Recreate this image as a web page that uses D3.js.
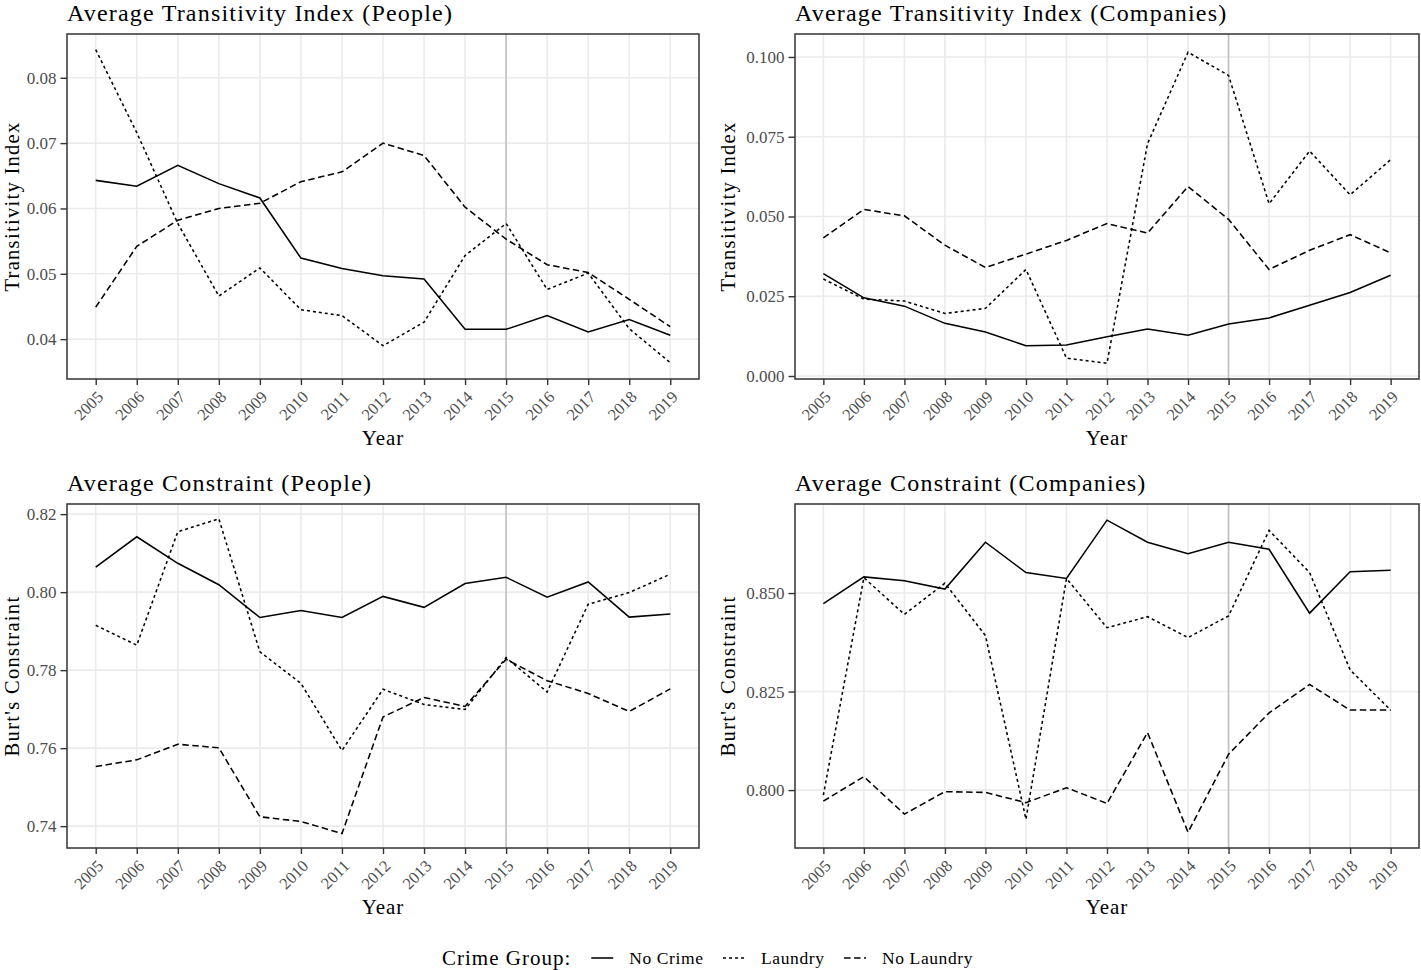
<!DOCTYPE html>
<html>
<head>
<meta charset="utf-8">
<script src="https://cdn.jsdelivr.net/npm/d3@7/dist/d3.min.js"></script>
<style>
  html, body { margin: 0; padding: 0; background: #ffffff; }
  svg { display: block; }
  text { font-family: "Liberation Serif", "DejaVu Serif", serif; }
</style>
</head>
<body>
<svg id="chart" width="1421" height="970"></svg>
<script>
// ---------------- DATA ----------------
const years = [2005, 2006, 2007, 2008, 2009, 2010, 2011, 2012, 2013, 2014, 2015, 2016, 2017, 2018, 2019];
const groups = ["No Crime", "Laundry", "No Laundry"];

// Average Transitivity Index (People)
const transPeopleNoCrime   = [0.0643, 0.0634, 0.0666, 0.0638, 0.0616, 0.0524, 0.0508, 0.0497, 0.0492, 0.0415, 0.0415, 0.0436, 0.0411, 0.0430, 0.0406];
const transPeopleLaundry   = [0.0843, 0.0716, 0.0577, 0.0466, 0.0509, 0.0445, 0.0436, 0.0390, 0.0426, 0.0528, 0.0577, 0.0476, 0.0501, 0.0416, 0.0364];
const transPeopleNoLaundry = [0.0449, 0.0542, 0.0582, 0.0600, 0.0608, 0.0641, 0.0656, 0.0700, 0.0681, 0.0602, 0.0553, 0.0514, 0.0502, 0.0461, 0.0419];

// Average Transitivity Index (Companies)
const transCompNoCrime   = [0.0321, 0.0245, 0.0219, 0.0165, 0.0138, 0.0095, 0.0097, 0.0123, 0.0147, 0.0128, 0.0163, 0.0182, 0.0222, 0.0262, 0.0316];
const transCompLaundry   = [0.0304, 0.0241, 0.0235, 0.0196, 0.0212, 0.0334, 0.0056, 0.0040, 0.0728, 0.1015, 0.0942, 0.0540, 0.0705, 0.0568, 0.0678];
const transCompNoLaundry = [0.0433, 0.0522, 0.0502, 0.0410, 0.0340, 0.0382, 0.0425, 0.0478, 0.0448, 0.0594, 0.0491, 0.0334, 0.0394, 0.0443, 0.0386];

// Average Constraint (People)
const consPeopleNoCrime   = [0.8064, 0.8142, 0.8074, 0.8019, 0.7935, 0.7953, 0.7935, 0.7989, 0.7961, 0.8022, 0.8038, 0.7987, 0.8026, 0.7936, 0.7944];
const consPeopleLaundry   = [0.7915, 0.7864, 0.8155, 0.8188, 0.7847, 0.7766, 0.7594, 0.7751, 0.7712, 0.7699, 0.7832, 0.7744, 0.7969, 0.7999, 0.8046];
const consPeopleNoLaundry = [0.7553, 0.7570, 0.7610, 0.7601, 0.7424, 0.7412, 0.7381, 0.7680, 0.7730, 0.7707, 0.7828, 0.7773, 0.7740, 0.7694, 0.7752];

// Average Constraint (Companies)
const consCompNoCrime   = [0.8473, 0.8541, 0.8531, 0.8510, 0.8629, 0.8552, 0.8537, 0.8685, 0.8629, 0.8600, 0.8629, 0.8611, 0.8449, 0.8554, 0.8558];
const consCompLaundry   = [0.7987, 0.8539, 0.8446, 0.8525, 0.8392, 0.7926, 0.8537, 0.8412, 0.8440, 0.8387, 0.8442, 0.8659, 0.8552, 0.8305, 0.8203];
const consCompNoLaundry = [0.7972, 0.8034, 0.7939, 0.7996, 0.7994, 0.7968, 0.8006, 0.7966, 0.8146, 0.7893, 0.8091, 0.8196, 0.8268, 0.8203, 0.8203];

// Tick values
const ticksTransPeople = [0.04, 0.05, 0.06, 0.07, 0.08];
const ticksTransComp   = [0.000, 0.025, 0.050, 0.075, 0.100];
const ticksConsPeople  = [0.74, 0.76, 0.78, 0.80, 0.82];
const ticksConsComp    = [0.800, 0.825, 0.850];
const markerYear = 2015;

// ---------------- LAYOUT / STYLE ----------------
const styles = {
  "No Crime":   { dash: null },
  "Laundry":    { dash: "3,3" },
  "No Laundry": { dash: "6.5,3.5" }
};

const panels = [
  { title: "Average Transitivity Index (People)", ylab: "Transitivity Index",
    x0: 67, x1: 699, y0: 34, y1: 379, ydom: [0.0339, 0.0867], ticks: ticksTransPeople, fmt: d3.format(".2f"),
    series: [transPeopleNoCrime, transPeopleLaundry, transPeopleNoLaundry], ylabX: 18.5 },
  { title: "Average Transitivity Index (Companies)", ylab: "Transitivity Index",
    x0: 795, x1: 1419, y0: 34, y1: 379, ydom: [-0.00094, 0.1072], ticks: ticksTransComp, fmt: d3.format(".3f"),
    series: [transCompNoCrime, transCompLaundry, transCompNoLaundry], ylabX: 735 },
  { title: "Average Constraint (People)", ylab: "Burt's Constraint",
    x0: 67, x1: 699, y0: 504, y1: 848, ydom: [0.7344, 0.8226], ticks: ticksConsPeople, fmt: d3.format(".2f"),
    series: [consPeopleNoCrime, consPeopleLaundry, consPeopleNoLaundry], ylabX: 18.5 },
  { title: "Average Constraint (Companies)", ylab: "Burt's Constraint",
    x0: 795, x1: 1419, y0: 504, y1: 848, ydom: [0.7853, 0.8726], ticks: ticksConsComp, fmt: d3.format(".3f"),
    series: [consCompNoCrime, consCompLaundry, consCompNoLaundry], ylabX: 735 }
];

const svg = d3.select("#chart");
const gridColor = "#ebebeb";
const tickColor = "#4d4d4d";
const titleSize = "24px", titleSpacing = "1.2px";
const axisTitleSize = "21px", axisTitleSpacing = "1px";
const ylabSize = "20.5px", ylabSpacing = "1.3px";

panels.forEach(p => {
  const x = d3.scaleLinear().domain([2005 - 0.7, 2019 + 0.7]).range([p.x0, p.x1]);
  const y = d3.scaleLinear().domain(p.ydom).range([p.y1, p.y0]);
  const g = svg.append("g");

  // grid
  g.selectAll(".gx").data(years).join("line")
    .attr("x1", d => x(d)).attr("x2", d => x(d))
    .attr("y1", p.y0).attr("y2", p.y1)
    .attr("stroke", gridColor).attr("stroke-width", 1.6);
  g.selectAll(".gy").data(p.ticks).join("line")
    .attr("x1", p.x0).attr("x2", p.x1)
    .attr("y1", d => y(d)).attr("y2", d => y(d))
    .attr("stroke", gridColor).attr("stroke-width", 1.6);

  // vertical marker
  g.append("line")
    .attr("x1", x(markerYear)).attr("x2", x(markerYear))
    .attr("y1", p.y0).attr("y2", p.y1)
    .attr("stroke", "#bebebe").attr("stroke-width", 1.5);

  // lines
  const line = d3.line().x((d, i) => x(years[i])).y(d => y(d));
  p.series.forEach((s, k) => {
    const st = styles[groups[k]];
    g.append("path").datum(s)
      .attr("d", line)
      .attr("fill", "none")
      .attr("stroke", "#000")
      .attr("stroke-width", 1.55)
      .attr("stroke-dasharray", st.dash);
  });

  // border
  g.append("rect")
    .attr("x", p.x0).attr("y", p.y0)
    .attr("width", p.x1 - p.x0).attr("height", p.y1 - p.y0)
    .attr("fill", "none").attr("stroke", "#333333").attr("stroke-width", 1.5);

  // y axis
  const ya = d3.axisLeft(y).tickValues(p.ticks).tickFormat(p.fmt).tickSize(6.5).tickPadding(4);
  const yg = g.append("g").attr("transform", `translate(${p.x0},0)`).call(ya);
  yg.select(".domain").remove();
  yg.selectAll(".tick line").attr("stroke", "#333333").attr("stroke-width", 1.4);
  yg.selectAll(".tick text").attr("fill", tickColor).style("font-size", "17px")
    .style("font-family", '"Liberation Serif", serif');

  // x axis
  const xa = d3.axisBottom(x).tickValues(years).tickFormat(d3.format("d")).tickSize(6).tickPadding(3);
  const xg = g.append("g").attr("transform", `translate(0,${p.y1})`).call(xa);
  xg.select(".domain").remove();
  xg.selectAll(".tick line").attr("stroke", "#333333").attr("stroke-width", 1.4);
  xg.selectAll(".tick text")
    .attr("fill", tickColor)
    .style("font-size", "16.5px")
    .style("font-family", '"Liberation Serif", serif')
    .attr("text-anchor", "end")
    .attr("dy", null)
    .attr("y", 0)
    .attr("transform", "translate(8,19) rotate(-45)");

  // title
  svg.append("text").attr("x", p.x0).attr("y", p.y0 - 13)
    .text(p.title).style("font-size", titleSize).style("letter-spacing", titleSpacing).attr("fill", "#000");

  // axis titles
  svg.append("text")
    .attr("x", (p.x0 + p.x1) / 2).attr("y", p.y1 + 66)
    .attr("text-anchor", "middle")
    .text("Year").style("font-size", axisTitleSize).style("letter-spacing", axisTitleSpacing);
  svg.append("text")
    .attr("transform", `translate(${p.ylabX},${(p.y0 + p.y1) / 2}) rotate(-90)`)
    .attr("text-anchor", "middle")
    .text(p.ylab).style("font-size", ylabSize).style("letter-spacing", ylabSpacing);
});

// ---------------- LEGEND ----------------
const legY = 958;
const leg = svg.append("g");
const legTitle = leg.append("text").attr("x", 442).attr("y", legY + 7)
  .text("Crime Group:").style("font-size", axisTitleSize).style("letter-spacing", axisTitleSpacing);
let cx = 442 + legTitle.node().getComputedTextLength() + 20;
groups.forEach((key, i) => {
  leg.append("line").attr("x1", cx).attr("x2", cx + 22)
    .attr("y1", legY).attr("y2", legY)
    .attr("stroke", "#000").attr("stroke-width", 1.55)
    .attr("stroke-dasharray", styles[key].dash);
  const t = leg.append("text").attr("x", cx + 38).attr("y", legY + 5.5)
    .text(key).style("font-size", "17.5px").style("letter-spacing", "0.6px");
  cx = cx + 38 + t.node().getComputedTextLength() + 19.5;
});
</script>
</body>
</html>
